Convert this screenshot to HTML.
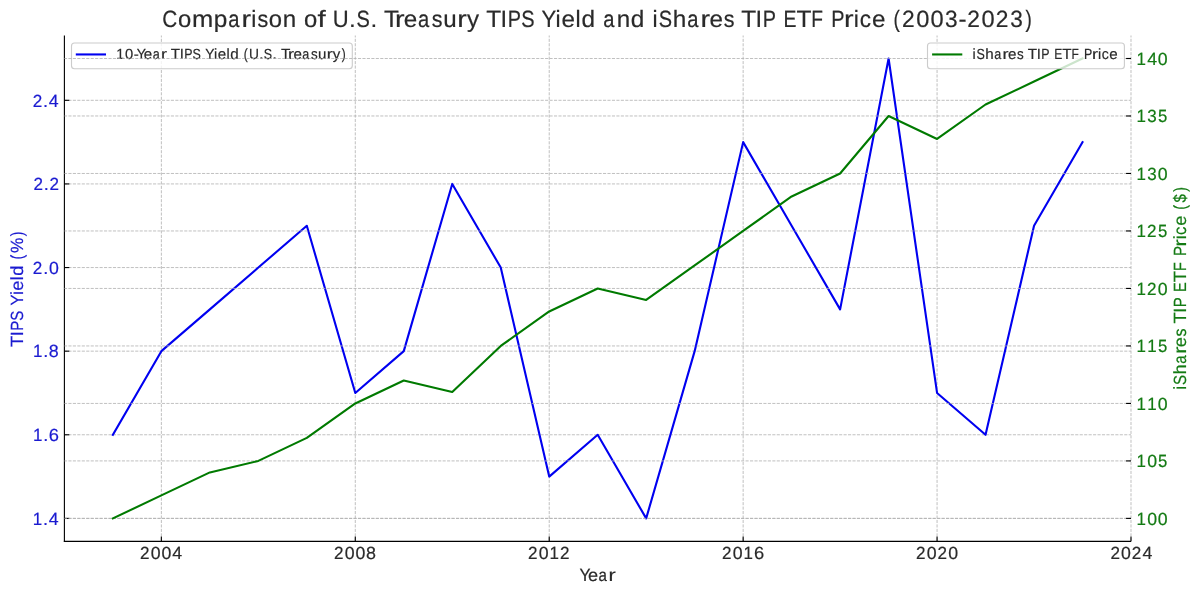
<!DOCTYPE html><html><head><meta charset="utf-8"><title>TIPS Yield vs TIP ETF</title>
<style>html,body{margin:0;padding:0;background:#fff;overflow:hidden}svg{display:block;will-change:transform}text{font-family:"Liberation Sans",sans-serif;text-rendering:geometricPrecision;white-space:pre}</style></head><body>
<svg width="1200" height="595" viewBox="0 0 1200 595">
<rect width="1200" height="595" fill="#fff"/>
<line x1="161.36" y1="541.40" x2="161.36" y2="35.50" stroke="#b0b0b0" stroke-opacity="0.8" stroke-width="1.0" stroke-dasharray="3.11 1.345" stroke-dashoffset="3.91"/><line x1="355.29" y1="541.40" x2="355.29" y2="35.50" stroke="#b0b0b0" stroke-opacity="0.8" stroke-width="1.0" stroke-dasharray="3.11 1.345" stroke-dashoffset="3.91"/><line x1="549.22" y1="541.40" x2="549.22" y2="35.50" stroke="#b0b0b0" stroke-opacity="0.8" stroke-width="1.0" stroke-dasharray="3.11 1.345" stroke-dashoffset="3.91"/><line x1="743.15" y1="541.40" x2="743.15" y2="35.50" stroke="#b0b0b0" stroke-opacity="0.8" stroke-width="1.0" stroke-dasharray="3.11 1.345" stroke-dashoffset="3.91"/><line x1="937.07" y1="541.40" x2="937.07" y2="35.50" stroke="#b0b0b0" stroke-opacity="0.8" stroke-width="1.0" stroke-dasharray="3.11 1.345" stroke-dashoffset="3.91"/><line x1="1131.00" y1="541.40" x2="1131.00" y2="35.50" stroke="#b0b0b0" stroke-opacity="0.8" stroke-width="1.0" stroke-dasharray="3.11 1.345" stroke-dashoffset="3.91"/><line x1="64.40" y1="518.40" x2="1131.00" y2="518.40" stroke="#b0b0b0" stroke-opacity="0.8" stroke-width="1.0" stroke-dasharray="3.11 1.345" stroke-dashoffset="0.455"/><line x1="64.40" y1="434.78" x2="1131.00" y2="434.78" stroke="#b0b0b0" stroke-opacity="0.8" stroke-width="1.0" stroke-dasharray="3.11 1.345" stroke-dashoffset="0.455"/><line x1="64.40" y1="351.16" x2="1131.00" y2="351.16" stroke="#b0b0b0" stroke-opacity="0.8" stroke-width="1.0" stroke-dasharray="3.11 1.345" stroke-dashoffset="0.455"/><line x1="64.40" y1="267.55" x2="1131.00" y2="267.55" stroke="#b0b0b0" stroke-opacity="0.8" stroke-width="1.0" stroke-dasharray="3.11 1.345" stroke-dashoffset="0.455"/><line x1="64.40" y1="183.93" x2="1131.00" y2="183.93" stroke="#b0b0b0" stroke-opacity="0.8" stroke-width="1.0" stroke-dasharray="3.11 1.345" stroke-dashoffset="0.455"/><line x1="64.40" y1="100.31" x2="1131.00" y2="100.31" stroke="#b0b0b0" stroke-opacity="0.8" stroke-width="1.0" stroke-dasharray="3.11 1.345" stroke-dashoffset="0.455"/>
<polyline points="112.88,434.78 161.36,351.16 209.85,309.35 258.33,267.55 306.81,225.74 355.29,392.97 403.77,351.16 452.25,183.93 500.74,267.55 549.22,476.59 597.70,434.78 646.18,518.40 694.66,351.16 743.15,142.12 791.63,225.74 840.11,309.35 888.59,58.50 937.07,392.97 985.55,434.78 1034.04,225.74 1082.52,142.12" fill="none" stroke="#0000f0" stroke-width="2.1" stroke-linejoin="round" stroke-linecap="square"/>
<line x1="64.40" y1="35.50" x2="64.40" y2="541.96" stroke="#000" stroke-width="1.12"/>
<line x1="63.84" y1="541.40" x2="1131.00" y2="541.40" stroke="#000" stroke-width="1.12"/>
<line x1="161.36" y1="541.40" x2="161.36" y2="536.50" stroke="#000" stroke-width="1.12"/>
<line x1="355.29" y1="541.40" x2="355.29" y2="536.50" stroke="#000" stroke-width="1.12"/>
<line x1="549.22" y1="541.40" x2="549.22" y2="536.50" stroke="#000" stroke-width="1.12"/>
<line x1="743.15" y1="541.40" x2="743.15" y2="536.50" stroke="#000" stroke-width="1.12"/>
<line x1="937.07" y1="541.40" x2="937.07" y2="536.50" stroke="#000" stroke-width="1.12"/>
<line x1="1131.00" y1="541.40" x2="1131.00" y2="536.50" stroke="#000" stroke-width="1.12"/>
<line x1="64.40" y1="518.40" x2="69.30" y2="518.40" stroke="#000" stroke-width="1.12"/>
<line x1="64.40" y1="434.78" x2="69.30" y2="434.78" stroke="#000" stroke-width="1.12"/>
<line x1="64.40" y1="351.16" x2="69.30" y2="351.16" stroke="#000" stroke-width="1.12"/>
<line x1="64.40" y1="267.55" x2="69.30" y2="267.55" stroke="#000" stroke-width="1.12"/>
<line x1="64.40" y1="183.93" x2="69.30" y2="183.93" stroke="#000" stroke-width="1.12"/>
<line x1="64.40" y1="100.31" x2="69.30" y2="100.31" stroke="#000" stroke-width="1.12"/>
<g fill="#2a2a2a"><text transform="translate(139.72,559.00) translate(0.37,0) scale(0.9677,1)" font-size="17.65" stroke="#2a2a2a" stroke-width="0.2">2</text><text transform="translate(139.72,559.00) translate(11.09,0) scale(1.0039,1)" font-size="17.65" stroke="#2a2a2a" stroke-width="0.2">0</text><text transform="translate(139.72,559.00) translate(21.76,0) scale(1.0039,1)" font-size="17.65" stroke="#2a2a2a" stroke-width="0.2">0</text><text transform="translate(139.72,559.00) translate(32.42,0) scale(1.0041,1)" font-size="17.65" stroke="#2a2a2a" stroke-width="0.2">4</text></g>
<g fill="#2a2a2a"><text transform="translate(333.72,559.00) translate(0.37,0) scale(0.9677,1)" font-size="17.65" stroke="#2a2a2a" stroke-width="0.2">2</text><text transform="translate(333.72,559.00) translate(11.09,0) scale(1.0039,1)" font-size="17.65" stroke="#2a2a2a" stroke-width="0.2">0</text><text transform="translate(333.72,559.00) translate(21.76,0) scale(1.0039,1)" font-size="17.65" stroke="#2a2a2a" stroke-width="0.2">0</text><text transform="translate(333.72,559.00) translate(32.37,0) scale(1.0148,1)" font-size="17.65" stroke="#2a2a2a" stroke-width="0.2">8</text></g>
<g fill="#2a2a2a"><text transform="translate(527.62,559.00) translate(0.37,0) scale(0.9677,1)" font-size="17.65" stroke="#2a2a2a" stroke-width="0.2">2</text><text transform="translate(527.62,559.00) translate(11.09,0) scale(1.0039,1)" font-size="17.65" stroke="#2a2a2a" stroke-width="0.2">0</text><text transform="translate(527.62,559.00) translate(21.90,0) scale(0.9589,1)" font-size="17.65" stroke="#2a2a2a" stroke-width="0.2">1</text><text transform="translate(527.62,559.00) translate(32.38,0) scale(0.9677,1)" font-size="17.65" stroke="#2a2a2a" stroke-width="0.2">2</text></g>
<g fill="#2a2a2a"><text transform="translate(721.72,559.00) translate(0.37,0) scale(0.9677,1)" font-size="17.65" stroke="#2a2a2a" stroke-width="0.2">2</text><text transform="translate(721.72,559.00) translate(11.09,0) scale(1.0039,1)" font-size="17.65" stroke="#2a2a2a" stroke-width="0.2">0</text><text transform="translate(721.72,559.00) translate(21.90,0) scale(0.9589,1)" font-size="17.65" stroke="#2a2a2a" stroke-width="0.2">1</text><text transform="translate(721.72,559.00) translate(32.25,0) scale(1.0391,1)" font-size="17.65" stroke="#2a2a2a" stroke-width="0.2">6</text></g>
<g fill="#2a2a2a"><text transform="translate(915.72,559.00) translate(0.37,0) scale(0.9677,1)" font-size="17.65" stroke="#2a2a2a" stroke-width="0.2">2</text><text transform="translate(915.72,559.00) translate(11.09,0) scale(1.0039,1)" font-size="17.65" stroke="#2a2a2a" stroke-width="0.2">0</text><text transform="translate(915.72,559.00) translate(21.71,0) scale(0.9677,1)" font-size="17.65" stroke="#2a2a2a" stroke-width="0.2">2</text><text transform="translate(915.72,559.00) translate(32.43,0) scale(1.0039,1)" font-size="17.65" stroke="#2a2a2a" stroke-width="0.2">0</text></g>
<g fill="#2a2a2a"><text transform="translate(1110.02,559.00) translate(0.37,0) scale(0.9677,1)" font-size="17.65" stroke="#2a2a2a" stroke-width="0.2">2</text><text transform="translate(1110.02,559.00) translate(11.09,0) scale(1.0039,1)" font-size="17.65" stroke="#2a2a2a" stroke-width="0.2">0</text><text transform="translate(1110.02,559.00) translate(21.71,0) scale(0.9677,1)" font-size="17.65" stroke="#2a2a2a" stroke-width="0.2">2</text><text transform="translate(1110.02,559.00) translate(32.42,0) scale(1.0041,1)" font-size="17.65" stroke="#2a2a2a" stroke-width="0.2">4</text></g>
<g fill="#1a1ad0"><text transform="translate(32.30,524.60) translate(0.56,0) scale(0.9589,1)" font-size="17.65" stroke="#1a1ad0" stroke-width="0.2">1</text><text transform="translate(32.30,524.60) translate(10.81,0) scale(1.0305,1)" font-size="17.65" stroke="#1a1ad0" stroke-width="0.2">.</text><text transform="translate(32.30,524.60) translate(16.42,0) scale(1.0041,1)" font-size="17.65" stroke="#1a1ad0" stroke-width="0.2">4</text></g>
<g fill="#1a1ad0"><text transform="translate(32.41,440.98) translate(0.56,0) scale(0.9589,1)" font-size="17.65" stroke="#1a1ad0" stroke-width="0.2">1</text><text transform="translate(32.41,440.98) translate(10.81,0) scale(1.0305,1)" font-size="17.65" stroke="#1a1ad0" stroke-width="0.2">.</text><text transform="translate(32.41,440.98) translate(16.24,0) scale(1.0391,1)" font-size="17.65" stroke="#1a1ad0" stroke-width="0.2">6</text></g>
<g fill="#1a1ad0"><text transform="translate(32.50,357.36) translate(0.56,0) scale(0.9589,1)" font-size="17.65" stroke="#1a1ad0" stroke-width="0.2">1</text><text transform="translate(32.50,357.36) translate(10.81,0) scale(1.0305,1)" font-size="17.65" stroke="#1a1ad0" stroke-width="0.2">.</text><text transform="translate(32.50,357.36) translate(16.36,0) scale(1.0148,1)" font-size="17.65" stroke="#1a1ad0" stroke-width="0.2">8</text></g>
<g fill="#1a1ad0"><text transform="translate(32.47,273.75) translate(0.37,0) scale(0.9677,1)" font-size="17.65" stroke="#1a1ad0" stroke-width="0.2">2</text><text transform="translate(32.47,273.75) translate(10.81,0) scale(1.0305,1)" font-size="17.65" stroke="#1a1ad0" stroke-width="0.2">.</text><text transform="translate(32.47,273.75) translate(16.42,0) scale(1.0039,1)" font-size="17.65" stroke="#1a1ad0" stroke-width="0.2">0</text></g>
<g fill="#1a1ad0"><text transform="translate(33.03,190.13) translate(0.37,0) scale(0.9677,1)" font-size="17.65" stroke="#1a1ad0" stroke-width="0.2">2</text><text transform="translate(33.03,190.13) translate(10.81,0) scale(1.0305,1)" font-size="17.65" stroke="#1a1ad0" stroke-width="0.2">.</text><text transform="translate(33.03,190.13) translate(16.37,0) scale(0.9677,1)" font-size="17.65" stroke="#1a1ad0" stroke-width="0.2">2</text></g>
<g fill="#1a1ad0"><text transform="translate(32.30,106.51) translate(0.37,0) scale(0.9677,1)" font-size="17.65" stroke="#1a1ad0" stroke-width="0.2">2</text><text transform="translate(32.30,106.51) translate(10.81,0) scale(1.0305,1)" font-size="17.65" stroke="#1a1ad0" stroke-width="0.2">.</text><text transform="translate(32.30,106.51) translate(16.42,0) scale(1.0041,1)" font-size="17.65" stroke="#1a1ad0" stroke-width="0.2">4</text></g>
<g fill="#2a2a2a"><text transform="translate(579.78,580.80) translate(-0.40,0) scale(0.9397,1)" font-size="17.65" stroke="#2a2a2a" stroke-width="0.2">Y</text><text transform="translate(579.78,580.80) translate(8.13,0) scale(1.0287,1)" font-size="17.65" stroke="#2a2a2a" stroke-width="0.2">e</text><text transform="translate(579.78,580.80) translate(18.66,0) scale(0.8564,1)" font-size="17.65" stroke="#2a2a2a" stroke-width="0.2">a</text><text transform="translate(579.78,580.80) translate(28.67,0) scale(1.2202,1)" font-size="17.65" stroke="#2a2a2a" stroke-width="0.2">r</text></g>
<g fill="#1a1ad0"><text transform="translate(22.70,346.45) rotate(-90) translate(-0.46,0) scale(1.0387,1)" font-size="17.65" stroke="#1a1ad0" stroke-width="0.2">T</text><text transform="translate(22.70,346.45) rotate(-90) translate(10.25,0) scale(1.0072,1)" font-size="17.65" stroke="#1a1ad0" stroke-width="0.2">I</text><text transform="translate(22.70,346.45) rotate(-90) translate(15.62,0) scale(0.8423,1)" font-size="17.65" stroke="#1a1ad0" stroke-width="0.2">P</text><text transform="translate(22.70,346.45) rotate(-90) translate(25.73,0) scale(0.8490,1)" font-size="17.65" stroke="#1a1ad0" stroke-width="0.2">S</text><text transform="translate(22.70,346.45) rotate(-90) translate(40.88,0) scale(0.9397,1)" font-size="17.65" stroke="#1a1ad0" stroke-width="0.2">Y</text><text transform="translate(22.70,346.45) rotate(-90) translate(51.33,0) scale(0.9735,1)" font-size="17.65" stroke="#1a1ad0" stroke-width="0.2">i</text><text transform="translate(22.70,346.45) rotate(-90) translate(55.71,0) scale(1.0287,1)" font-size="17.65" stroke="#1a1ad0" stroke-width="0.2">e</text><text transform="translate(22.70,346.45) rotate(-90) translate(66.30,0) scale(0.9735,1)" font-size="17.65" stroke="#1a1ad0" stroke-width="0.2">l</text><text transform="translate(22.70,346.45) rotate(-90) translate(70.69,0) scale(1.0351,1)" font-size="17.65" stroke="#1a1ad0" stroke-width="0.2">d</text><text transform="translate(22.70,346.45) rotate(-90) translate(87.07,0) scale(0.8051,1)" font-size="17.65" stroke="#1a1ad0" stroke-width="0.2">(</text><text transform="translate(22.70,346.45) rotate(-90) translate(93.36,0) scale(0.9780,1)" font-size="17.65" stroke="#1a1ad0" stroke-width="0.2">%</text><text transform="translate(22.70,346.45) rotate(-90) translate(110.25,0) scale(0.8051,1)" font-size="17.65" stroke="#1a1ad0" stroke-width="0.2">)</text></g>
<rect x="71.5" y="43.05" width="280.8" height="25.65" rx="3" ry="3" fill="#fff" fill-opacity="0.8" stroke="#cccccc" stroke-width="1.11"/>
<line x1="75.8" y1="54.45" x2="106" y2="54.45" stroke="#0000f0" stroke-width="2.1"/>
<g fill="#2a2a2a"><text transform="translate(115.86,59.40) translate(0.46,0) scale(0.9589,1)" font-size="14.71" stroke="#2a2a2a" stroke-width="0.2">1</text><text transform="translate(115.86,59.40) translate(9.25,0) scale(1.0039,1)" font-size="14.71" stroke="#2a2a2a" stroke-width="0.2">0</text><text transform="translate(115.86,59.40) translate(17.82,0) scale(1.0267,1)" font-size="14.71" stroke="#2a2a2a" stroke-width="0.2">-</text><text transform="translate(115.86,59.40) translate(20.89,0) scale(0.9397,1)" font-size="14.71" stroke="#2a2a2a" stroke-width="0.2">Y</text><text transform="translate(115.86,59.40) translate(28.01,0) scale(1.0287,1)" font-size="14.71" stroke="#2a2a2a" stroke-width="0.2">e</text><text transform="translate(115.86,59.40) translate(36.80,0) scale(0.8564,1)" font-size="14.71" stroke="#2a2a2a" stroke-width="0.2">a</text><text transform="translate(115.86,59.40) translate(45.15,0) scale(1.2202,1)" font-size="14.71" stroke="#2a2a2a" stroke-width="0.2">r</text><text transform="translate(115.86,59.40) translate(54.89,0) scale(1.0387,1)" font-size="14.71" stroke="#2a2a2a" stroke-width="0.2">T</text><text transform="translate(115.86,59.40) translate(63.83,0) scale(1.0072,1)" font-size="14.71" stroke="#2a2a2a" stroke-width="0.2">I</text><text transform="translate(115.86,59.40) translate(68.31,0) scale(0.8423,1)" font-size="14.71" stroke="#2a2a2a" stroke-width="0.2">P</text><text transform="translate(115.86,59.40) translate(76.75,0) scale(0.8490,1)" font-size="14.71" stroke="#2a2a2a" stroke-width="0.2">S</text><text transform="translate(115.86,59.40) translate(89.39,0) scale(0.9397,1)" font-size="14.71" stroke="#2a2a2a" stroke-width="0.2">Y</text><text transform="translate(115.86,59.40) translate(98.13,0) scale(0.9735,1)" font-size="14.71" stroke="#2a2a2a" stroke-width="0.2">i</text><text transform="translate(115.86,59.40) translate(101.79,0) scale(1.0287,1)" font-size="14.71" stroke="#2a2a2a" stroke-width="0.2">e</text><text transform="translate(115.86,59.40) translate(110.62,0) scale(0.9735,1)" font-size="14.71" stroke="#2a2a2a" stroke-width="0.2">l</text><text transform="translate(115.86,59.40) translate(114.29,0) scale(1.0351,1)" font-size="14.71" stroke="#2a2a2a" stroke-width="0.2">d</text><text transform="translate(115.86,59.40) translate(127.96,0) scale(0.8051,1)" font-size="14.71" stroke="#2a2a2a" stroke-width="0.2">(</text><text transform="translate(115.86,59.40) translate(133.11,0) scale(0.9360,1)" font-size="14.71" stroke="#2a2a2a" stroke-width="0.2">U</text><text transform="translate(115.86,59.40) translate(143.31,0) scale(1.0305,1)" font-size="14.71" stroke="#2a2a2a" stroke-width="0.2">.</text><text transform="translate(115.86,59.40) translate(148.00,0) scale(0.8490,1)" font-size="14.71" stroke="#2a2a2a" stroke-width="0.2">S</text><text transform="translate(115.86,59.40) translate(156.64,0) scale(1.0305,1)" font-size="14.71" stroke="#2a2a2a" stroke-width="0.2">.</text><text transform="translate(115.86,59.40) translate(165.04,0) scale(1.0387,1)" font-size="14.71" stroke="#2a2a2a" stroke-width="0.2">T</text><text transform="translate(115.86,59.40) translate(172.04,0) scale(1.2202,1)" font-size="14.71" stroke="#2a2a2a" stroke-width="0.2">r</text><text transform="translate(115.86,59.40) translate(177.59,0) scale(1.0287,1)" font-size="14.71" stroke="#2a2a2a" stroke-width="0.2">e</text><text transform="translate(115.86,59.40) translate(186.38,0) scale(0.8564,1)" font-size="14.71" stroke="#2a2a2a" stroke-width="0.2">a</text><text transform="translate(115.86,59.40) translate(195.04,0) scale(0.9129,1)" font-size="14.71" stroke="#2a2a2a" stroke-width="0.2">s</text><text transform="translate(115.86,59.40) translate(202.15,0) scale(1.0268,1)" font-size="14.71" stroke="#2a2a2a" stroke-width="0.2">u</text><text transform="translate(115.86,59.40) translate(210.90,0) scale(1.2202,1)" font-size="14.71" stroke="#2a2a2a" stroke-width="0.2">r</text><text transform="translate(115.86,59.40) translate(216.95,0) scale(1.0228,1)" font-size="14.71" stroke="#2a2a2a" stroke-width="0.2">y</text><text transform="translate(115.86,59.40) translate(225.90,0) scale(0.8051,1)" font-size="14.71" stroke="#2a2a2a" stroke-width="0.2">)</text></g>
<line x1="64.40" y1="518.40" x2="1131.00" y2="518.40" stroke="#b0b0b0" stroke-opacity="0.8" stroke-width="1.0" stroke-dasharray="3.11 1.345" stroke-dashoffset="0.455"/><line x1="64.40" y1="460.92" x2="1131.00" y2="460.92" stroke="#b0b0b0" stroke-opacity="0.8" stroke-width="1.0" stroke-dasharray="3.11 1.345" stroke-dashoffset="0.455"/><line x1="64.40" y1="403.43" x2="1131.00" y2="403.43" stroke="#b0b0b0" stroke-opacity="0.8" stroke-width="1.0" stroke-dasharray="3.11 1.345" stroke-dashoffset="0.455"/><line x1="64.40" y1="345.94" x2="1131.00" y2="345.94" stroke="#b0b0b0" stroke-opacity="0.8" stroke-width="1.0" stroke-dasharray="3.11 1.345" stroke-dashoffset="0.455"/><line x1="64.40" y1="288.45" x2="1131.00" y2="288.45" stroke="#b0b0b0" stroke-opacity="0.8" stroke-width="1.0" stroke-dasharray="3.11 1.345" stroke-dashoffset="0.455"/><line x1="64.40" y1="230.96" x2="1131.00" y2="230.96" stroke="#b0b0b0" stroke-opacity="0.8" stroke-width="1.0" stroke-dasharray="3.11 1.345" stroke-dashoffset="0.455"/><line x1="64.40" y1="173.47" x2="1131.00" y2="173.47" stroke="#b0b0b0" stroke-opacity="0.8" stroke-width="1.0" stroke-dasharray="3.11 1.345" stroke-dashoffset="0.455"/><line x1="64.40" y1="115.98" x2="1131.00" y2="115.98" stroke="#b0b0b0" stroke-opacity="0.8" stroke-width="1.0" stroke-dasharray="3.11 1.345" stroke-dashoffset="0.455"/><line x1="64.40" y1="58.50" x2="1131.00" y2="58.50" stroke="#b0b0b0" stroke-opacity="0.8" stroke-width="1.0" stroke-dasharray="3.11 1.345" stroke-dashoffset="0.455"/>
<polyline points="112.88,518.40 161.36,495.41 209.85,472.41 258.33,460.92 306.81,437.92 355.29,403.43 403.77,380.43 452.25,391.93 500.74,345.94 549.22,311.45 597.70,288.45 646.18,299.95 694.66,265.45 743.15,230.96 791.63,196.47 840.11,173.47 888.59,115.98 937.07,138.98 985.55,104.49 1034.04,81.49 1082.52,58.50" fill="none" stroke="#007a00" stroke-width="2.1" stroke-linejoin="round" stroke-linecap="square"/>
<line x1="1131.00" y1="518.40" x2="1126.10" y2="518.40" stroke="#000" stroke-width="1.12"/>
<g fill="#137a13"><text transform="translate(1136.05,524.60) translate(0.56,0) scale(0.9589,1)" font-size="17.65" stroke="#137a13" stroke-width="0.2">1</text><text transform="translate(1136.05,524.60) translate(11.09,0) scale(1.0039,1)" font-size="17.65" stroke="#137a13" stroke-width="0.2">0</text><text transform="translate(1136.05,524.60) translate(21.76,0) scale(1.0039,1)" font-size="17.65" stroke="#137a13" stroke-width="0.2">0</text></g>
<line x1="1131.00" y1="460.92" x2="1126.10" y2="460.92" stroke="#000" stroke-width="1.12"/>
<g fill="#137a13"><text transform="translate(1136.05,467.12) translate(0.56,0) scale(0.9589,1)" font-size="17.65" stroke="#137a13" stroke-width="0.2">1</text><text transform="translate(1136.05,467.12) translate(11.09,0) scale(1.0039,1)" font-size="17.65" stroke="#137a13" stroke-width="0.2">0</text><text transform="translate(1136.05,467.12) translate(21.97,0) scale(0.9475,1)" font-size="17.65" stroke="#137a13" stroke-width="0.2">5</text></g>
<line x1="1131.00" y1="403.43" x2="1126.10" y2="403.43" stroke="#000" stroke-width="1.12"/>
<g fill="#137a13"><text transform="translate(1136.05,409.63) translate(0.56,0) scale(0.9589,1)" font-size="17.65" stroke="#137a13" stroke-width="0.2">1</text><text transform="translate(1136.05,409.63) translate(11.23,0) scale(0.9589,1)" font-size="17.65" stroke="#137a13" stroke-width="0.2">1</text><text transform="translate(1136.05,409.63) translate(21.76,0) scale(1.0039,1)" font-size="17.65" stroke="#137a13" stroke-width="0.2">0</text></g>
<line x1="1131.00" y1="345.94" x2="1126.10" y2="345.94" stroke="#000" stroke-width="1.12"/>
<g fill="#137a13"><text transform="translate(1136.05,352.14) translate(0.56,0) scale(0.9589,1)" font-size="17.65" stroke="#137a13" stroke-width="0.2">1</text><text transform="translate(1136.05,352.14) translate(11.23,0) scale(0.9589,1)" font-size="17.65" stroke="#137a13" stroke-width="0.2">1</text><text transform="translate(1136.05,352.14) translate(21.97,0) scale(0.9475,1)" font-size="17.65" stroke="#137a13" stroke-width="0.2">5</text></g>
<line x1="1131.00" y1="288.45" x2="1126.10" y2="288.45" stroke="#000" stroke-width="1.12"/>
<g fill="#137a13"><text transform="translate(1136.05,294.65) translate(0.56,0) scale(0.9589,1)" font-size="17.65" stroke="#137a13" stroke-width="0.2">1</text><text transform="translate(1136.05,294.65) translate(11.04,0) scale(0.9677,1)" font-size="17.65" stroke="#137a13" stroke-width="0.2">2</text><text transform="translate(1136.05,294.65) translate(21.76,0) scale(1.0039,1)" font-size="17.65" stroke="#137a13" stroke-width="0.2">0</text></g>
<line x1="1131.00" y1="230.96" x2="1126.10" y2="230.96" stroke="#000" stroke-width="1.12"/>
<g fill="#137a13"><text transform="translate(1136.05,237.16) translate(0.56,0) scale(0.9589,1)" font-size="17.65" stroke="#137a13" stroke-width="0.2">1</text><text transform="translate(1136.05,237.16) translate(11.04,0) scale(0.9677,1)" font-size="17.65" stroke="#137a13" stroke-width="0.2">2</text><text transform="translate(1136.05,237.16) translate(21.97,0) scale(0.9475,1)" font-size="17.65" stroke="#137a13" stroke-width="0.2">5</text></g>
<line x1="1131.00" y1="173.47" x2="1126.10" y2="173.47" stroke="#000" stroke-width="1.12"/>
<g fill="#137a13"><text transform="translate(1136.05,179.67) translate(0.56,0) scale(0.9589,1)" font-size="17.65" stroke="#137a13" stroke-width="0.2">1</text><text transform="translate(1136.05,179.67) translate(11.30,0) scale(0.9642,1)" font-size="17.65" stroke="#137a13" stroke-width="0.2">3</text><text transform="translate(1136.05,179.67) translate(21.76,0) scale(1.0039,1)" font-size="17.65" stroke="#137a13" stroke-width="0.2">0</text></g>
<line x1="1131.00" y1="115.98" x2="1126.10" y2="115.98" stroke="#000" stroke-width="1.12"/>
<g fill="#137a13"><text transform="translate(1136.05,122.18) translate(0.56,0) scale(0.9589,1)" font-size="17.65" stroke="#137a13" stroke-width="0.2">1</text><text transform="translate(1136.05,122.18) translate(11.30,0) scale(0.9642,1)" font-size="17.65" stroke="#137a13" stroke-width="0.2">3</text><text transform="translate(1136.05,122.18) translate(21.97,0) scale(0.9475,1)" font-size="17.65" stroke="#137a13" stroke-width="0.2">5</text></g>
<line x1="1131.00" y1="58.50" x2="1126.10" y2="58.50" stroke="#000" stroke-width="1.12"/>
<g fill="#137a13"><text transform="translate(1136.05,64.70) translate(0.56,0) scale(0.9589,1)" font-size="17.65" stroke="#137a13" stroke-width="0.2">1</text><text transform="translate(1136.05,64.70) translate(11.08,0) scale(1.0041,1)" font-size="17.65" stroke="#137a13" stroke-width="0.2">4</text><text transform="translate(1136.05,64.70) translate(21.76,0) scale(1.0039,1)" font-size="17.65" stroke="#137a13" stroke-width="0.2">0</text></g>
<g fill="#137a13"><text transform="translate(1186.00,390.10) rotate(-90) translate(0.43,0) scale(0.9735,1)" font-size="17.65" stroke="#137a13" stroke-width="0.2">i</text><text transform="translate(1186.00,390.10) rotate(-90) translate(5.09,0) scale(0.8490,1)" font-size="17.65" stroke="#137a13" stroke-width="0.2">S</text><text transform="translate(1186.00,390.10) rotate(-90) translate(15.57,0) scale(1.0340,1)" font-size="17.65" stroke="#137a13" stroke-width="0.2">h</text><text transform="translate(1186.00,390.10) rotate(-90) translate(26.30,0) scale(0.8564,1)" font-size="17.65" stroke="#137a13" stroke-width="0.2">a</text><text transform="translate(1186.00,390.10) rotate(-90) translate(36.31,0) scale(1.2202,1)" font-size="17.65" stroke="#137a13" stroke-width="0.2">r</text><text transform="translate(1186.00,390.10) rotate(-90) translate(42.88,0) scale(1.0287,1)" font-size="17.65" stroke="#137a13" stroke-width="0.2">e</text><text transform="translate(1186.00,390.10) rotate(-90) translate(53.51,0) scale(0.9129,1)" font-size="17.65" stroke="#137a13" stroke-width="0.2">s</text><text transform="translate(1186.00,390.10) rotate(-90) translate(66.65,0) scale(1.0387,1)" font-size="17.65" stroke="#137a13" stroke-width="0.2">T</text><text transform="translate(1186.00,390.10) rotate(-90) translate(77.37,0) scale(1.0072,1)" font-size="17.65" stroke="#137a13" stroke-width="0.2">I</text><text transform="translate(1186.00,390.10) rotate(-90) translate(82.74,0) scale(0.8423,1)" font-size="17.65" stroke="#137a13" stroke-width="0.2">P</text><text transform="translate(1186.00,390.10) rotate(-90) translate(98.20,0) scale(0.8254,1)" font-size="17.65" stroke="#137a13" stroke-width="0.2">E</text><text transform="translate(1186.00,390.10) rotate(-90) translate(107.88,0) scale(1.0387,1)" font-size="17.65" stroke="#137a13" stroke-width="0.2">T</text><text transform="translate(1186.00,390.10) rotate(-90) translate(119.06,0) scale(0.8163,1)" font-size="17.65" stroke="#137a13" stroke-width="0.2">F</text><text transform="translate(1186.00,390.10) rotate(-90) translate(134.00,0) scale(0.8423,1)" font-size="17.65" stroke="#137a13" stroke-width="0.2">P</text><text transform="translate(1186.00,390.10) rotate(-90) translate(143.52,0) scale(1.2202,1)" font-size="17.65" stroke="#137a13" stroke-width="0.2">r</text><text transform="translate(1186.00,390.10) rotate(-90) translate(150.76,0) scale(0.9735,1)" font-size="17.65" stroke="#137a13" stroke-width="0.2">i</text><text transform="translate(1186.00,390.10) rotate(-90) translate(155.19,0) scale(0.9556,1)" font-size="17.65" stroke="#137a13" stroke-width="0.2">c</text><text transform="translate(1186.00,390.10) rotate(-90) translate(164.36,0) scale(1.0287,1)" font-size="17.65" stroke="#137a13" stroke-width="0.2">e</text><text transform="translate(1186.00,390.10) rotate(-90) translate(180.42,0) scale(0.8051,1)" font-size="17.65" stroke="#137a13" stroke-width="0.2">(</text><text transform="translate(1186.00,390.10) rotate(-90) translate(187.63,0) scale(0.8461,1)" font-size="17.65" stroke="#137a13" stroke-width="0.2">$</text><text transform="translate(1186.00,390.10) rotate(-90) translate(198.33,0) scale(0.8051,1)" font-size="17.65" stroke="#137a13" stroke-width="0.2">)</text></g>
<rect x="927.5" y="43.05" width="196.9" height="25.65" rx="3" ry="3" fill="#fff" fill-opacity="0.8" stroke="#cccccc" stroke-width="1.11"/>
<line x1="932.1" y1="54.45" x2="962.3" y2="54.45" stroke="#007a00" stroke-width="2.1"/>
<g fill="#2a2a2a"><text transform="translate(972.18,59.40) translate(0.36,0) scale(0.9735,1)" font-size="14.71" stroke="#2a2a2a" stroke-width="0.2">i</text><text transform="translate(972.18,59.40) translate(4.25,0) scale(0.8490,1)" font-size="14.71" stroke="#2a2a2a" stroke-width="0.2">S</text><text transform="translate(972.18,59.40) translate(12.99,0) scale(1.0340,1)" font-size="14.71" stroke="#2a2a2a" stroke-width="0.2">h</text><text transform="translate(972.18,59.40) translate(21.95,0) scale(0.8564,1)" font-size="14.71" stroke="#2a2a2a" stroke-width="0.2">a</text><text transform="translate(972.18,59.40) translate(30.30,0) scale(1.2202,1)" font-size="14.71" stroke="#2a2a2a" stroke-width="0.2">r</text><text transform="translate(972.18,59.40) translate(35.85,0) scale(1.0287,1)" font-size="14.71" stroke="#2a2a2a" stroke-width="0.2">e</text><text transform="translate(972.18,59.40) translate(44.72,0) scale(0.9129,1)" font-size="14.71" stroke="#2a2a2a" stroke-width="0.2">s</text><text transform="translate(972.18,59.40) translate(55.69,0) scale(1.0387,1)" font-size="14.71" stroke="#2a2a2a" stroke-width="0.2">T</text><text transform="translate(972.18,59.40) translate(64.63,0) scale(1.0072,1)" font-size="14.71" stroke="#2a2a2a" stroke-width="0.2">I</text><text transform="translate(972.18,59.40) translate(69.11,0) scale(0.8423,1)" font-size="14.71" stroke="#2a2a2a" stroke-width="0.2">P</text><text transform="translate(972.18,59.40) translate(82.02,0) scale(0.8254,1)" font-size="14.71" stroke="#2a2a2a" stroke-width="0.2">E</text><text transform="translate(972.18,59.40) translate(90.10,0) scale(1.0387,1)" font-size="14.71" stroke="#2a2a2a" stroke-width="0.2">T</text><text transform="translate(972.18,59.40) translate(99.43,0) scale(0.8163,1)" font-size="14.71" stroke="#2a2a2a" stroke-width="0.2">F</text><text transform="translate(972.18,59.40) translate(111.90,0) scale(0.8423,1)" font-size="14.71" stroke="#2a2a2a" stroke-width="0.2">P</text><text transform="translate(972.18,59.40) translate(119.81,0) scale(1.2202,1)" font-size="14.71" stroke="#2a2a2a" stroke-width="0.2">r</text><text transform="translate(972.18,59.40) translate(125.84,0) scale(0.9735,1)" font-size="14.71" stroke="#2a2a2a" stroke-width="0.2">i</text><text transform="translate(972.18,59.40) translate(129.54,0) scale(0.9556,1)" font-size="14.71" stroke="#2a2a2a" stroke-width="0.2">c</text><text transform="translate(972.18,59.40) translate(137.19,0) scale(1.0287,1)" font-size="14.71" stroke="#2a2a2a" stroke-width="0.2">e</text></g>
<g fill="#2a2a2a"><text transform="translate(162.14,27.20) translate(0.20,0) scale(0.8841,1)" font-size="23.54" stroke="#2a2a2a" stroke-width="0.2">C</text><text transform="translate(162.14,27.20) translate(15.91,0) scale(1.0125,1)" font-size="23.54" stroke="#2a2a2a" stroke-width="0.2">o</text><text transform="translate(162.14,27.20) translate(29.74,0) scale(1.0851,1)" font-size="23.54" stroke="#2a2a2a" stroke-width="0.2">m</text><text transform="translate(162.14,27.20) translate(51.73,0) scale(1.0361,1)" font-size="23.54" stroke="#2a2a2a" stroke-width="0.2">p</text><text transform="translate(162.14,27.20) translate(66.01,0) scale(0.8564,1)" font-size="23.54" stroke="#2a2a2a" stroke-width="0.2">a</text><text transform="translate(162.14,27.20) translate(79.40,0) scale(1.2202,1)" font-size="23.54" stroke="#2a2a2a" stroke-width="0.2">r</text><text transform="translate(162.14,27.20) translate(89.08,0) scale(0.9735,1)" font-size="23.54" stroke="#2a2a2a" stroke-width="0.2">i</text><text transform="translate(162.14,27.20) translate(95.35,0) scale(0.9129,1)" font-size="23.54" stroke="#2a2a2a" stroke-width="0.2">s</text><text transform="translate(162.14,27.20) translate(106.66,0) scale(1.0125,1)" font-size="23.54" stroke="#2a2a2a" stroke-width="0.2">o</text><text transform="translate(162.14,27.20) translate(120.59,0) scale(1.0268,1)" font-size="23.54" stroke="#2a2a2a" stroke-width="0.2">n</text><text transform="translate(162.14,27.20) translate(141.76,0) scale(1.0125,1)" font-size="23.54" stroke="#2a2a2a" stroke-width="0.2">o</text><text transform="translate(162.14,27.20) translate(155.35,0) scale(1.2500,1)" font-size="23.54" stroke="#2a2a2a" stroke-width="0.2">f</text><text transform="translate(162.14,27.20) translate(170.54,0) scale(0.9360,1)" font-size="23.54" stroke="#2a2a2a" stroke-width="0.2">U</text><text transform="translate(162.14,27.20) translate(186.90,0) scale(1.0305,1)" font-size="23.54" stroke="#2a2a2a" stroke-width="0.2">.</text><text transform="translate(162.14,27.20) translate(194.42,0) scale(0.8490,1)" font-size="23.54" stroke="#2a2a2a" stroke-width="0.2">S</text><text transform="translate(162.14,27.20) translate(208.28,0) scale(1.0305,1)" font-size="23.54" stroke="#2a2a2a" stroke-width="0.2">.</text><text transform="translate(162.14,27.20) translate(221.75,0) scale(1.0387,1)" font-size="23.54" stroke="#2a2a2a" stroke-width="0.2">T</text><text transform="translate(162.14,27.20) translate(232.93,0) scale(1.2202,1)" font-size="23.54" stroke="#2a2a2a" stroke-width="0.2">r</text><text transform="translate(162.14,27.20) translate(241.73,0) scale(1.0287,1)" font-size="23.54" stroke="#2a2a2a" stroke-width="0.2">e</text><text transform="translate(162.14,27.20) translate(255.82,0) scale(0.8564,1)" font-size="23.54" stroke="#2a2a2a" stroke-width="0.2">a</text><text transform="translate(162.14,27.20) translate(269.70,0) scale(0.9129,1)" font-size="23.54" stroke="#2a2a2a" stroke-width="0.2">s</text><text transform="translate(162.14,27.20) translate(281.12,0) scale(1.0268,1)" font-size="23.54" stroke="#2a2a2a" stroke-width="0.2">u</text><text transform="translate(162.14,27.20) translate(295.14,0) scale(1.2202,1)" font-size="23.54" stroke="#2a2a2a" stroke-width="0.2">r</text><text transform="translate(162.14,27.20) translate(304.84,0) scale(1.0228,1)" font-size="23.54" stroke="#2a2a2a" stroke-width="0.2">y</text><text transform="translate(162.14,27.20) translate(324.04,0) scale(1.0387,1)" font-size="23.54" stroke="#2a2a2a" stroke-width="0.2">T</text><text transform="translate(162.14,27.20) translate(338.38,0) scale(1.0072,1)" font-size="23.54" stroke="#2a2a2a" stroke-width="0.2">I</text><text transform="translate(162.14,27.20) translate(345.56,0) scale(0.8423,1)" font-size="23.54" stroke="#2a2a2a" stroke-width="0.2">P</text><text transform="translate(162.14,27.20) translate(359.09,0) scale(0.8490,1)" font-size="23.54" stroke="#2a2a2a" stroke-width="0.2">S</text><text transform="translate(162.14,27.20) translate(379.37,0) scale(0.9397,1)" font-size="23.54" stroke="#2a2a2a" stroke-width="0.2">Y</text><text transform="translate(162.14,27.20) translate(393.43,0) scale(0.9735,1)" font-size="23.54" stroke="#2a2a2a" stroke-width="0.2">i</text><text transform="translate(162.14,27.20) translate(399.30,0) scale(1.0287,1)" font-size="23.54" stroke="#2a2a2a" stroke-width="0.2">e</text><text transform="translate(162.14,27.20) translate(413.47,0) scale(0.9735,1)" font-size="23.54" stroke="#2a2a2a" stroke-width="0.2">l</text><text transform="translate(162.14,27.20) translate(419.35,0) scale(1.0351,1)" font-size="23.54" stroke="#2a2a2a" stroke-width="0.2">d</text><text transform="translate(162.14,27.20) translate(441.01,0) scale(0.8564,1)" font-size="23.54" stroke="#2a2a2a" stroke-width="0.2">a</text><text transform="translate(162.14,27.20) translate(454.70,0) scale(1.0268,1)" font-size="23.54" stroke="#2a2a2a" stroke-width="0.2">n</text><text transform="translate(162.14,27.20) translate(468.71,0) scale(1.0351,1)" font-size="23.54" stroke="#2a2a2a" stroke-width="0.2">d</text><text transform="translate(162.14,27.20) translate(490.46,0) scale(0.9735,1)" font-size="23.54" stroke="#2a2a2a" stroke-width="0.2">i</text><text transform="translate(162.14,27.20) translate(496.68,0) scale(0.8490,1)" font-size="23.54" stroke="#2a2a2a" stroke-width="0.2">S</text><text transform="translate(162.14,27.20) translate(510.71,0) scale(1.0340,1)" font-size="23.54" stroke="#2a2a2a" stroke-width="0.2">h</text><text transform="translate(162.14,27.20) translate(525.08,0) scale(0.8564,1)" font-size="23.54" stroke="#2a2a2a" stroke-width="0.2">a</text><text transform="translate(162.14,27.20) translate(538.47,0) scale(1.2202,1)" font-size="23.54" stroke="#2a2a2a" stroke-width="0.2">r</text><text transform="translate(162.14,27.20) translate(547.27,0) scale(1.0287,1)" font-size="23.54" stroke="#2a2a2a" stroke-width="0.2">e</text><text transform="translate(162.14,27.20) translate(561.49,0) scale(0.9129,1)" font-size="23.54" stroke="#2a2a2a" stroke-width="0.2">s</text><text transform="translate(162.14,27.20) translate(579.09,0) scale(1.0387,1)" font-size="23.54" stroke="#2a2a2a" stroke-width="0.2">T</text><text transform="translate(162.14,27.20) translate(593.42,0) scale(1.0072,1)" font-size="23.54" stroke="#2a2a2a" stroke-width="0.2">I</text><text transform="translate(162.14,27.20) translate(600.61,0) scale(0.8423,1)" font-size="23.54" stroke="#2a2a2a" stroke-width="0.2">P</text><text transform="translate(162.14,27.20) translate(621.31,0) scale(0.8254,1)" font-size="23.54" stroke="#2a2a2a" stroke-width="0.2">E</text><text transform="translate(162.14,27.20) translate(634.27,0) scale(1.0387,1)" font-size="23.54" stroke="#2a2a2a" stroke-width="0.2">T</text><text transform="translate(162.14,27.20) translate(649.22,0) scale(0.8163,1)" font-size="23.54" stroke="#2a2a2a" stroke-width="0.2">F</text><text transform="translate(162.14,27.20) translate(669.21,0) scale(0.8423,1)" font-size="23.54" stroke="#2a2a2a" stroke-width="0.2">P</text><text transform="translate(162.14,27.20) translate(681.92,0) scale(1.2202,1)" font-size="23.54" stroke="#2a2a2a" stroke-width="0.2">r</text><text transform="translate(162.14,27.20) translate(691.60,0) scale(0.9735,1)" font-size="23.54" stroke="#2a2a2a" stroke-width="0.2">i</text><text transform="translate(162.14,27.20) translate(697.54,0) scale(0.9556,1)" font-size="23.54" stroke="#2a2a2a" stroke-width="0.2">c</text><text transform="translate(162.14,27.20) translate(709.81,0) scale(1.0287,1)" font-size="23.54" stroke="#2a2a2a" stroke-width="0.2">e</text><text transform="translate(162.14,27.20) translate(731.30,0) scale(0.8051,1)" font-size="23.54" stroke="#2a2a2a" stroke-width="0.2">(</text><text transform="translate(162.14,27.20) translate(739.80,0) scale(0.9677,1)" font-size="23.54" stroke="#2a2a2a" stroke-width="0.2">2</text><text transform="translate(162.14,27.20) translate(754.14,0) scale(1.0039,1)" font-size="23.54" stroke="#2a2a2a" stroke-width="0.2">0</text><text transform="translate(162.14,27.20) translate(768.42,0) scale(1.0039,1)" font-size="23.54" stroke="#2a2a2a" stroke-width="0.2">0</text><text transform="translate(162.14,27.20) translate(782.98,0) scale(0.9642,1)" font-size="23.54" stroke="#2a2a2a" stroke-width="0.2">3</text><text transform="translate(162.14,27.20) translate(796.44,0) scale(1.0267,1)" font-size="23.54" stroke="#2a2a2a" stroke-width="0.2">-</text><text transform="translate(162.14,27.20) translate(805.02,0) scale(0.9677,1)" font-size="23.54" stroke="#2a2a2a" stroke-width="0.2">2</text><text transform="translate(162.14,27.20) translate(819.36,0) scale(1.0039,1)" font-size="23.54" stroke="#2a2a2a" stroke-width="0.2">0</text><text transform="translate(162.14,27.20) translate(833.58,0) scale(0.9677,1)" font-size="23.54" stroke="#2a2a2a" stroke-width="0.2">2</text><text transform="translate(162.14,27.20) translate(848.20,0) scale(0.9642,1)" font-size="23.54" stroke="#2a2a2a" stroke-width="0.2">3</text><text transform="translate(162.14,27.20) translate(863.33,0) scale(0.8051,1)" font-size="23.54" stroke="#2a2a2a" stroke-width="0.2">)</text></g>
</svg></body></html>
